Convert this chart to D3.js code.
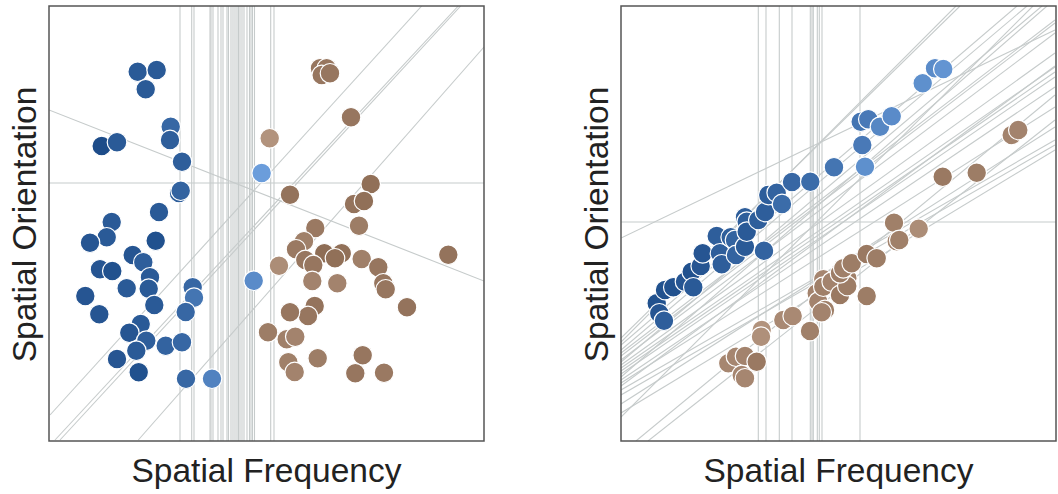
<!DOCTYPE html>
<html><head><meta charset="utf-8">
<script src="https://cdn.jsdelivr.net/npm/d3@7"></script>
<style>body{margin:0;background:#fff;} text{font-family:"Liberation Sans",Arial,sans-serif;fill:#222;}</style>
</head><body><svg id="c" width="1058" height="494"></svg>
<script>
// ---------- Left panel data ----------
const leftX = [88.7,107.7,96.7,121.7,121,52.7,68,133,130,131.7,110,62.7,57.7,41,106.7,83.7,94.3,51,63.3,101,99.7,77.7,36.3,105.3,50.3,143.7,145,136.7,91.7,80.3,97.3,87.3,116.7,133,68,89.7,137,163,212.7,204.7,
  271,277.7,272.7,281,302,220.7,241,321.7,305,315,310,266.3,255,247,275.3,292.7,286,256.3,264.3,230,312.7,329.3,399.3,263.3,288.3,334.3,336.7,358,265.7,259,241,219,237.7,246.3,268.7,313.7,239.3,245.7,306.3,335];
const leftY = [369.3,371,351.7,314.3,301,295,298.7,279.3,248,250.3,229,219,203.7,198.3,200.3,186,178.7,171.7,170,163.7,152.3,152.7,145,136,126.7,153.7,143.3,129,117,108.3,100.3,90.3,95.3,98.7,82,68.7,62.3,62.3,268,160.3,
  372.7,372.7,366,367.7,323.7,302.7,246.3,257,237,240,215.3,213,199.7,191.7,187.7,187.7,182.7,181,176,175.3,182,173.7,186.3,160,157.7,157.7,151.7,133.7,135,125,128.7,108.7,101.7,104.3,82.7,85.7,78.7,69,67.7,68.3];
const leftClass = [0,0,0,0,0,0,0,0,0,0,0,0,0,0,0,0,0,0,0,0,0,0,0,0,0,0,0,0,0,0,0,0,0,0,0,0,0,0,0,0,
  1,1,1,1,1,1,1,1,1,1,1,1,1,1,1,1,1,1,1,1,1,1,1,1,1,1,1,1,1,1,1,1,1,1,1,1,1,1,1,1];
const leftShade = [.15,.15,.15,.3,.2,0,.15,.2,.2,.25,.15,.15,.15,.1,.05,.1,.2,.1,.05,.15,.15,.15,.1,.15,.1,.3,.45,.3,.15,.1,.2,.15,.25,.3,.1,.05,.3,.6,.9,.7,
  .3,.3,.3,.3,.3,.75,.25,.2,.25,.2,.4,.35,.45,.35,.15,.2,.2,.3,.3,.65,.45,.3,.25,.5,.5,.3,.3,.25,.25,.3,.3,.4,.45,.5,.4,.3,.45,.5,.3,.35];
const leftVerticals = [131,142.7,145,161,162,164,169,172,174,178,179.5,182,184,186,188,189.5,191,193,195,198,200.5,202,203.5,205.5,221.7,225];
const leftHorizontals = [258];
const leftSlanted = [[0,331,435,160],[1,26,372.7,435],[6,1,409.3,435],[11,1,411.7,435],[89.3,1,435,394]];

// ---------- Right panel data ----------
const rightX = [35.7,38.3,43,44,52.3,64,70.7,72.3,79.7,81.7,95.7,99,100.7,109.7,114,115,124,124,125.7,125.7,137.3,143,144,147.3,155.7,161,171,189.3,213,241.3,244,239.7,247.3,259,270.7,301.7,314,322.3,
  107.3,115,124,135.7,120.7,124,140.7,140,162.3,171.7,189,195.7,197.3,204,200.7,202.3,202.3,210.7,219,226.3,226.3,219,222.3,230.7,245.7,255.7,245.7,273,297.7,275.7,278.3,321.7,355.7,390.7,397.3];
const rightY = [137.7,127.7,120.3,151,153.7,159.3,169.3,153.7,175,187.7,205,187.7,176.7,203.7,201,186,194.3,223.7,219.3,209.3,221,190.3,229,246,248.3,237,259,259.3,273.7,296,274.3,319.3,321.7,314.3,324.7,357.7,372.7,372,
  77.7,84.3,85,79.3,66,62.7,111,104.3,121,125,110,147.7,139.3,131,128.7,161.7,154.3,159.3,146,162.7,155,167.7,172.7,177.7,187,182.7,145,218.3,212.3,199.7,201,264.3,268.3,306,311];
const rightClass = [0,0,0,0,0,0,0,0,0,0,0,0,0,0,0,0,0,0,0,0,0,0,0,0,0,0,0,0,0,0,0,0,0,0,0,0,0,0,
  1,1,1,1,1,1,1,1,1,1,1,1,1,1,1,1,1,1,1,1,1,1,1,1,1,1,1,1,1,1,1,1,1,1,1];
const rightShade = [.05,.1,.2,.05,.05,.1,.05,.15,.1,.1,.2,.2,.2,.2,.25,.25,.15,.2,.2,.15,.2,.25,.2,.2,.25,.35,.3,.35,.45,.5,.75,.45,.5,.65,.7,.75,.7,.8,
  .55,.55,.5,.35,.55,.55,.75,.7,.6,.6,.45,.5,.5,.45,.5,.55,.45,.5,.35,.45,.4,.4,.45,.4,.35,.4,.4,.45,.65,.5,.45,.35,.4,.5,.5];
const rightVerticals = [137.3,145,158.3,171,189.3,191,192.3,196.3,198.3,201,239];
const rightHorizontals = [219];
const rightSlanted = [[0,203,434,411],[0,103,339,435],[0,99,335,435],[0,96,396,435],[0,91,406,435],[0,88,434,421],[0,85,434,418],
  [0,81,434,408],[0,79,421,435],[0,76,434,388],[0,73,434,374],[0,70,434,369],[0,67,434,364],[0,64,426,435],[0,61,434,354],
  [0,58,434,334],[0,55,434,375],[0,51,434,301],[0,46,434,296],[0,37,434,314],[0,28,434,291],[0,24,412,435],[15,0,434,346],[27,0,434,321]];

const xLabel = "Spatial Frequency";
const yLabel = "Spatial Orientation";

// ---------- drawing ----------
const svg = d3.select("#c");
const blueCol = d3.interpolateRgb("#1d4c89", "#74a6e4");
const brownCol = d3.interpolateRgb("#85634b", "#c1a38e");

function panel(id, left, xs, ys, cls, shade, verts, hors, slants) {
  const size = 435, top = 6;
  const x = d3.scaleLinear().domain([0, 435]).range([left, left + size]);
  const y = d3.scaleLinear().domain([0, 435]).range([top + size, top]);
  svg.append("clipPath").attr("id", "clip" + id).append("rect")
    .attr("x", left).attr("y", top).attr("width", size).attr("height", size);
  const g = svg.append("g").attr("clip-path", `url(#clip${id})`);
  const lineCol = "#c6cbcb";
  g.selectAll("line.v").data(verts).join("line").attr("class","v")
    .attr("x1", d => x(d)).attr("x2", d => x(d)).attr("y1", top).attr("y2", top + size)
    .attr("stroke", lineCol).attr("stroke-width", 1.1);
  g.selectAll("line.h").data(hors).join("line").attr("class","h")
    .attr("y1", d => y(d)).attr("y2", d => y(d)).attr("x1", left).attr("x2", left + size)
    .attr("stroke", lineCol).attr("stroke-width", 1.1);
  g.selectAll("line.s").data(slants).join("line").attr("class","s")
    .attr("x1", d => x(d[0])).attr("y1", d => y(d[1])).attr("x2", d => x(d[2])).attr("y2", d => y(d[3]))
    .attr("stroke", lineCol).attr("stroke-width", 1.1);
  const pts = xs.map((v, i) => ({x: v, y: ys[i], c: cls[i], s: shade[i]}));
  g.selectAll("circle").data(pts).join("circle")
    .attr("cx", d => x(d.x)).attr("cy", d => y(d.y)).attr("r", 9.8)
    .attr("fill", d => d.c === 0 ? blueCol(d.s) : brownCol(d.s))
    .attr("stroke", "#fff").attr("stroke-width", 1.2);
  svg.append("rect").attr("x", left).attr("y", top).attr("width", size).attr("height", size)
    .attr("fill", "none").attr("stroke", "#555").attr("stroke-width", 1.5);
  svg.append("text").attr("x", left + size / 2).attr("y", 482).attr("text-anchor", "middle")
    .attr("font-size", 33.5).text(xLabel);
  svg.append("text").attr("transform", `translate(${left - 13},${top + size / 2 + 1}) rotate(-90)`)
    .attr("text-anchor", "middle").attr("font-size", 33.5).text(yLabel);
}

panel("L", 49, leftX, leftY, leftClass, leftShade, leftVerticals, leftHorizontals, leftSlanted);
panel("R", 621, rightX, rightY, rightClass, rightShade, rightVerticals, rightHorizontals, rightSlanted);
</script></body></html>
